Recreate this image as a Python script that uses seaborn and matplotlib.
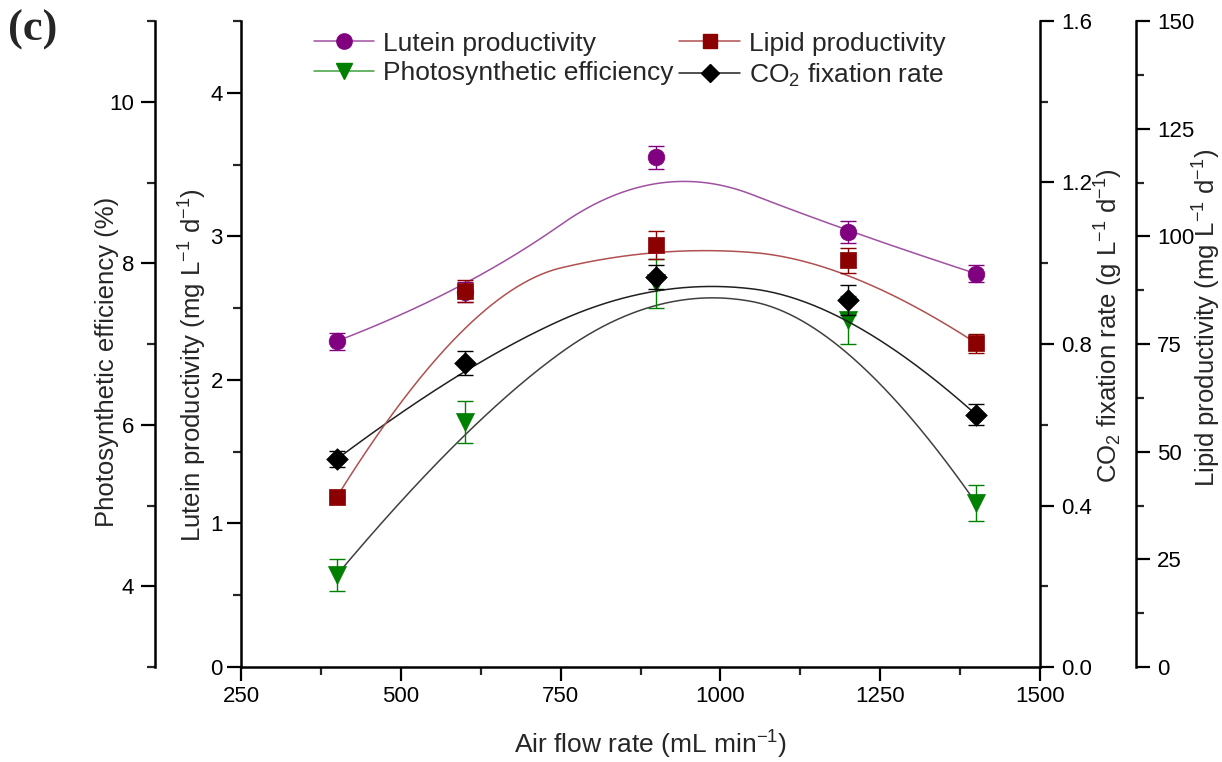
import numpy as np
import pandas as pd
import matplotlib
matplotlib.use("Agg")
import matplotlib.pyplot as plt
from matplotlib.lines import Line2D
from matplotlib.ticker import MultipleLocator, FormatStrFormatter
import seaborn as sns

# ---- data ----
air_flow = [400, 600, 900, 1200, 1400]
lutein = [2.27, 2.61, 3.55, 3.03, 2.74]
lutein_err = [0.06, 0.07, 0.08, 0.075, 0.06]
lipid = [39.5, 87.3, 98.0, 94.5, 75.2]
lipid_err = [0.0, 2.5, 3.2, 2.9, 2.2]
pe = [4.14, 6.03, 7.75, 7.30, 5.03]
pe_err = [0.2, 0.26, 0.3, 0.3, 0.22]
co2 = [0.515, 0.752, 0.965, 0.908, 0.625]
co2_err = [0.02, 0.03, 0.03, 0.037, 0.026]

sns.set_theme(style="ticks")
plt.rcParams["font.family"] = ["Liberation Sans", "DejaVu Sans"]
plt.rcParams["mathtext.fontset"] = "custom"
plt.rcParams["mathtext.rm"] = "Liberation Sans"
plt.rcParams["mathtext.it"] = "Liberation Sans:italic"
plt.rcParams["mathtext.bf"] = "Liberation Sans:bold"

fig = plt.figure(figsize=(12.22, 7.62), dpi=100)
ax = fig.add_axes([241/1222, 95/762, 799/1222, 646/762])
ax_pe = ax.twinx()
ax_co2 = ax.twinx()
ax_lip = ax.twinx()

C_LUT = "#800080"
C_LIP = "#8B0000"
C_PE = "#008000"
C_CO2 = "#000000"

df = pd.DataFrame({"x": air_flow, "lutein": lutein, "lipid": lipid, "pe": pe, "co2": co2})


def bspline(xc, yc, n=400, k=2):
    """Clamped B-spline using the data points as control points."""
    P = np.column_stack([xc, yc]).astype(float)
    m = len(P)
    inner = np.linspace(0, 1, m - k + 1)[1:-1]
    t = np.concatenate([np.zeros(k + 1), inner, np.ones(k + 1)])
    u = np.linspace(0, 1, n)
    u[-1] = 1 - 1e-12
    B = np.zeros((n, len(t) - 1))
    for i in range(len(t) - 1):
        B[:, i] = (t[i] <= u) & (u < t[i + 1])
    for d in range(1, k + 1):
        Bn = np.zeros((n, len(t) - 1 - d))
        for i in range(len(t) - 1 - d):
            a = np.zeros(n)
            b = np.zeros(n)
            if t[i + d] > t[i]:
                a = (u - t[i]) / (t[i + d] - t[i]) * B[:, i]
            if t[i + d + 1] > t[i + 1]:
                b = (t[i + d + 1] - u) / (t[i + d + 1] - t[i + 1]) * B[:, i + 1]
            Bn[:, i] = a + b
        B = Bn
    C = B @ P
    return C[:, 0], C[:, 1]


# B-spline connection curves
for a, y, c in [(ax, lutein, "#A050A0"), (ax_lip, lipid, "#B05050"),
                (ax_pe, pe, "#404040"), (ax_co2, co2, "#202020")]:
    bx, by = bspline(air_flow, y)
    sns.lineplot(x=bx, y=by, ax=a, color=c, lw=1.1, sort=False, estimator=None)

# error bars + markers
specs = [
    (ax, "lutein", lutein_err, C_LUT, "o", 12),
    (ax_lip, "lipid", lipid_err, C_LIP, "s", 11),
    (ax_pe, "pe", pe_err, C_PE, "v", 13),
    (ax_co2, "co2", co2_err, C_CO2, "D", 11),
]
for a, col, err, c, m, ms in specs:
    a.errorbar(df["x"], df[col], yerr=err, fmt="none", ecolor=c, elinewidth=1.0, capsize=6, capthick=1.0)
    sns.scatterplot(data=df, x="x", y=col, ax=a, color=c, marker=m, s=ms**2, edgecolor=c, linewidth=0.5, zorder=5)

# axes limits and ticks
ax.set_xlim(250, 1500)
ax.set_ylim(0, 4.5)
ax_pe.set_ylim(3, 11)
ax_co2.set_ylim(0, 1.6)
ax_lip.set_ylim(0, 150)

ax.xaxis.set_major_locator(MultipleLocator(250))
ax.xaxis.set_minor_locator(MultipleLocator(125))
ax.yaxis.set_major_locator(MultipleLocator(1))
ax.yaxis.set_minor_locator(MultipleLocator(0.5))
ax_pe.yaxis.set_major_locator(MultipleLocator(2))
ax_pe.yaxis.set_minor_locator(MultipleLocator(1))
ax_co2.yaxis.set_major_locator(MultipleLocator(0.4))
ax_co2.yaxis.set_minor_locator(MultipleLocator(0.2))
ax_lip.yaxis.set_major_locator(MultipleLocator(25))
ax_lip.yaxis.set_minor_locator(MultipleLocator(12.5))
ax_co2.yaxis.set_major_formatter(FormatStrFormatter("%.1f"))

# spines
for a in (ax, ax_pe, ax_co2, ax_lip):
    for s in a.spines.values():
        s.set_visible(False)
        s.set_linewidth(1.8)
        s.set_color("black")
ax.spines["left"].set_visible(True)
ax.spines["bottom"].set_visible(True)
ax_co2.spines["right"].set_visible(True)
ax_lip.spines["right"].set_visible(True)
ax_lip.spines["right"].set_position(("outward", 96 * 72 / 100))
ax_pe.spines["left"].set_visible(True)
ax_pe.spines["left"].set_position(("outward", 86 * 72 / 100))
ax_pe.yaxis.set_ticks_position("left")
ax_pe.yaxis.set_label_position("left")

fs = 16
for a in (ax, ax_pe, ax_co2, ax_lip):
    a.tick_params(axis="both", which="major", direction="out", length=10, width=1.6,
                  labelsize=fs, colors="black", pad=5)
    a.tick_params(axis="both", which="minor", direction="out", length=5.5, width=1.6)
ax.tick_params(axis="x", pad=4)
ax.tick_params(axis="y", pad=3)
ax_co2.tick_params(axis="y", pad=5)
ax_lip.tick_params(axis="y", pad=5)
for a in (ax_pe, ax_co2, ax_lip):
    a.tick_params(axis="x", which="both", bottom=False, labelbottom=False)

lab_fs = 18.5
ax.set_xlabel(r"Air flow rate (mL min$^{-1}$)", fontsize=19)
ax.set_ylabel(r"Lutein productivity (mg L$^{-1}$ d$^{-1}$)", fontsize=lab_fs)
ax_pe.set_ylabel("Photosynthetic efficiency (%)", fontsize=lab_fs)
ax_co2.set_ylabel(r"CO$_2$ fixation rate (g L$^{-1}$ d$^{-1}$)", fontsize=lab_fs)
ax_lip.set_ylabel(r"Lipid productivity (mg L$^{-1}$ d$^{-1}$)", fontsize=lab_fs)


def px_to_axes(xp, yp):
    return (xp - 241) / 799, (667 - yp) / 646


for a, (xp, yp) in [(ax_pe, (107, 362)), (ax, (193, 365)), (ax_co2, (1109, 326)), (ax_lip, (1207, 318))]:
    a.yaxis.set_label_coords(*px_to_axes(xp, yp))
    a.yaxis.label.set_verticalalignment("center")
ax.xaxis.set_label_coords(*px_to_axes(651, 745))
ax.xaxis.label.set_verticalalignment("center")

# legend
handles = [
    Line2D([], [], color="#A050A0", lw=1.1, marker="o", markersize=11, markerfacecolor=C_LUT, markeredgecolor=C_LUT),
    Line2D([], [], color="#B05050", lw=1.1, marker="s", markersize=10, markerfacecolor=C_LIP, markeredgecolor=C_LIP),
    Line2D([], [], color="#40A040", lw=1.1, marker="v", markersize=11, markerfacecolor=C_PE, markeredgecolor=C_PE),
    Line2D([], [], color="#202020", lw=1.1, marker="D", markersize=9, markerfacecolor=C_CO2, markeredgecolor=C_CO2),
]
labels = ["Lutein productivity", "Lipid productivity", "Photosynthetic efficiency", r"CO$_2$ fixation rate"]
order = [0, 2, 1, 3]
leg = ax_lip.legend([handles[i] for i in order], [labels[i] for i in order], ncol=2, frameon=False,
                    fontsize=19, loc="upper left", bbox_to_anchor=(303/1222, 741/762),
                    bbox_transform=fig.transFigure, handlelength=2.3, handletextpad=0.35,
                    columnspacing=0.2, labelspacing=0.22, borderaxespad=0)

fig.text(8/1222, 712/762, "(c)", fontsize=32, fontweight="bold", family="Liberation Serif", va="bottom")

fig.savefig("out.png", dpi=100)
